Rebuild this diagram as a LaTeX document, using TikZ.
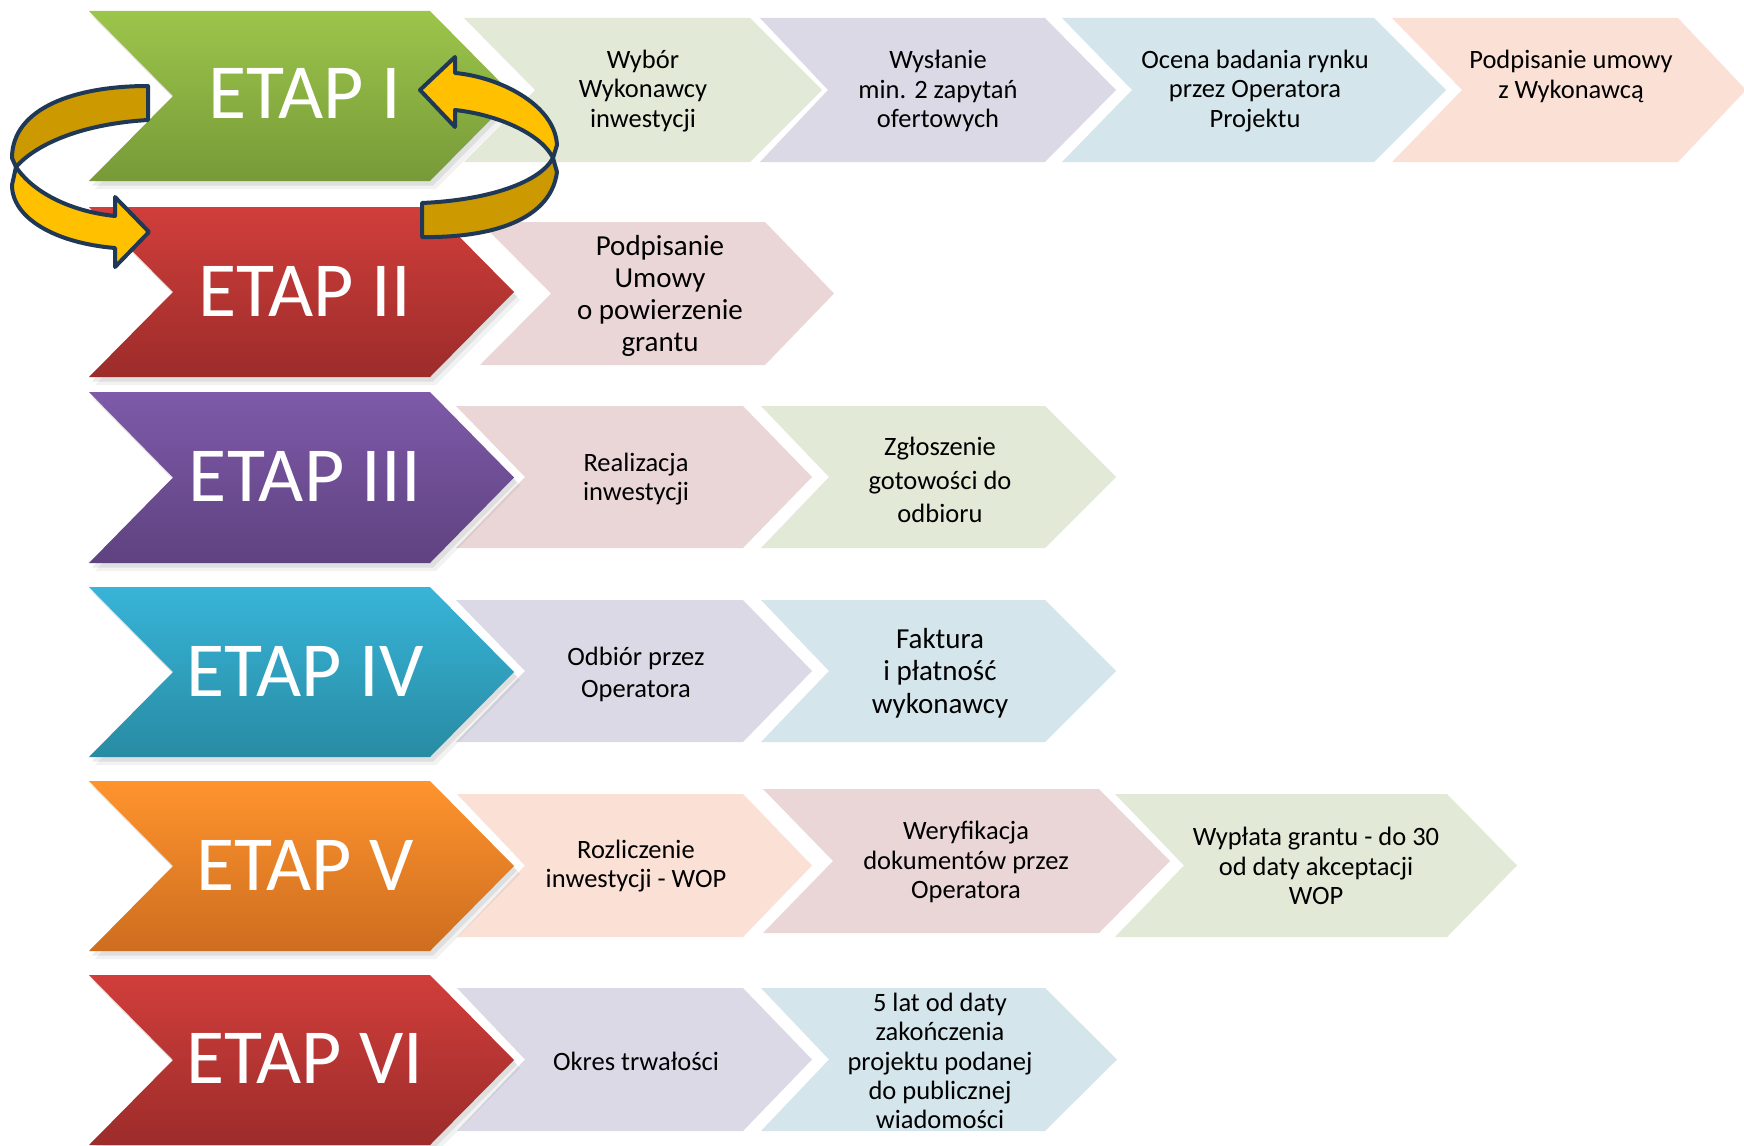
\documentclass[tikz,border=0pt]{standalone}
\usepackage{fontspec}
\setmainfont{Carlito}
\definecolor{cgreen}{HTML}{E2E9D6}
\definecolor{clav}{HTML}{DCD9E6}
\definecolor{cblue}{HTML}{D4E5EC}
\definecolor{cpeach}{HTML}{FBE0D6}
\definecolor{cpink}{HTML}{EBD6D7}
\definecolor{gtop}{HTML}{9CC54B}\definecolor{gbot}{HTML}{779A38}
\definecolor{rtop}{HTML}{D03E3B}\definecolor{rbot}{HTML}{9C2C2A}
\definecolor{ptop}{HTML}{7E5AA9}\definecolor{pbot}{HTML}{5F4280}
\definecolor{ttop}{HTML}{38B4D8}\definecolor{tbot}{HTML}{288BA3}
\definecolor{otop}{HTML}{FF942E}\definecolor{obot}{HTML}{CD6D1F}
\definecolor{ringyellow}{HTML}{FFC000}
\definecolor{ringgold}{HTML}{CC9A00}
\definecolor{ringnavy}{HTML}{1F3856}
\newcommand{\chev}[7]{\fill[#7] (#1,#5) -- (#3,#5) -- (#4,{(#5+#6)/2}) -- (#3,#6) -- (#1,#6) -- (#2,{(#5+#6)/2}) -- cycle;}
\newcommand{\bigchev}[4]{%
  \fill[black,opacity=0.05,xshift=6pt,yshift=-8pt] (89,#1) -- (430,#1) -- (514,{(#1+#2)/2}) -- (430,#2) -- (89,#2) -- (173,{(#1+#2)/2}) -- cycle;
  \fill[black,opacity=0.08,xshift=3pt,yshift=-4.5pt] (89,#1) -- (430,#1) -- (514,{(#1+#2)/2}) -- (430,#2) -- (89,#2) -- (173,{(#1+#2)/2}) -- cycle;
  \shade[top color=#3,bottom color=#4] (89,#1) -- (430,#1) -- (514,{(#1+#2)/2}) -- (430,#2) -- (89,#2) -- (173,{(#1+#2)/2}) -- cycle;}
\begin{document}
\begin{tikzpicture}[x=1pt,y=-1pt,
  bigtxt/.style={text=white,font=\fontsize{78}{82}\selectfont,anchor=base,inner sep=0pt},
  smalltxt/.style={align=center,font=\fontsize{26.5}{29.3}\selectfont,inner sep=0pt,text=black,yshift=-2pt},
  ringline/.style={draw=ringnavy,line width=4pt,line join=round},
  ringdark/.style={ringline,fill=ringgold},
  ringlight/.style={ringline,fill=ringyellow}]
\useasboundingbox (0,0) rectangle (1744,1145);
\fill[white] (0,0) rectangle (1744,1145);

% small chevrons
\chev{464}{535}{750}{822}{18}{162}{cgreen}
\chev{760}{828}{1045}{1116}{18}{162}{clav}
\chev{1062}{1132}{1374}{1446}{18}{162}{cblue}
\chev{1392}{1462}{1678}{1746}{18}{162}{cpeach}
\chev{480}{551}{765}{834}{222}{365}{cpink}
\chev{456}{525}{743}{812}{406}{548}{cpink}
\chev{761}{829}{1045}{1116}{406}{548}{cgreen}
\chev{456}{525}{743}{812}{600}{742}{clav}
\chev{761}{829}{1045}{1116}{600}{742}{cblue}
\chev{457}{525}{743}{812}{794}{937}{cpeach}
\chev{763}{833}{1099}{1170}{789}{933}{cpink}
\chev{1115}{1184}{1447}{1517}{794}{937}{cgreen}
\chev{457}{525}{743}{812}{988}{1131}{clav}
\chev{761}{829}{1045}{1117}{988}{1131}{cblue}

% big chevrons
\bigchev{11}{181}{gtop}{gbot}
\bigchev{207}{377}{rtop}{rbot}
\bigchev{392}{563}{ptop}{pbot}
\bigchev{587}{757}{ttop}{tbot}
\bigchev{781}{951}{otop}{obot}
\bigchev{975}{1145}{rtop}{rbot}

\node[bigtxt] (e1) at (305,118) {ETAP I};
\node[bigtxt] (e2) at (305,316) {ETAP II};
\node[bigtxt] (e3) at (305,501) {ETAP III};
\node[bigtxt] (e4) at (305,696) {ETAP IV};
\node[bigtxt] (e5) at (305,890) {ETAP V};
\node[bigtxt] (e6) at (305,1083) {ETAP VI};

% small texts
\node[smalltxt] (s11) at (643,89) {Wybór\\Wykonawcy\\inwestycji};
\node[smalltxt] (s12) at (938,89) {Wysłanie\\min. 2 zapytań\\ofertowych};
\node[smalltxt] (s13) at (1255,89) {Ocena badania rynku\\przez Operatora\\Projektu};
\node[smalltxt] (s14) at (1571,74.5) {Podpisanie umowy\\z Wykonawcą};
\node[smalltxt,font=\fontsize{29}{32}\selectfont] (s21) at (660,294) {Podpisanie\\Umowy\\o powierzenie\\grantu};
\node[smalltxt] (s31) at (636,477) {Realizacja\\inwestycji};
\node[smalltxt,font=\fontsize{26.5}{33.4}\selectfont] (s32) at (940,478) {Zgłoszenie\\gotowości do\\odbioru};
\node[smalltxt,font=\fontsize{26.5}{32}\selectfont] (s41) at (636,672) {Odbiór przez\\Operatora};
\node[smalltxt,font=\fontsize{29}{32.3}\selectfont] (s42) at (940,671) {Faktura\\i płatność\\wykonawcy};
\node[smalltxt] (s51) at (636,864) {Rozliczenie\\inwestycji - WOP};
\node[smalltxt] (s52) at (966,860) {Weryfikacja\\dokumentów przez\\Operatora};
\node[smalltxt] (s53) at (1316,864) {Wypłata grantu - do 30\\od daty akceptacji\\WOP};
\node[smalltxt] (s61) at (636,1059) {Okres trwałości};
\node[smalltxt] (s62) at (940,1059) {5 lat od daty\\zakończenia\\projektu podanej\\do publicznej\\wiadomości};

% circular arrows
\draw[ringdark] (148,86) .. controls (75,86) and (12,108) .. (12,158) -- (16,167) .. controls (35,145) and (80,124) .. (148,120) -- cycle;
\draw[ringlight] (16,167) .. controls (35,195) and (75,212) .. (115,216) -- (115,197) -- (149,232) -- (115,267) -- (115,248) .. controls (55,243) and (12,218) .. (12,185) -- cycle;
\draw[ringlight] (455,57) -- (420,90) -- (455,127) -- (455,110) .. controls (500,115) and (542,135) .. (553,158) -- (557,145) .. controls (555,105) and (500,77) .. (455,73) -- cycle;
\draw[ringdark] (553,158) .. controls (540,182) and (490,200) .. (422,203) -- (422,237) .. controls (480,238) and (550,225) .. (557,172) -- cycle;
\end{tikzpicture}
\end{document}
